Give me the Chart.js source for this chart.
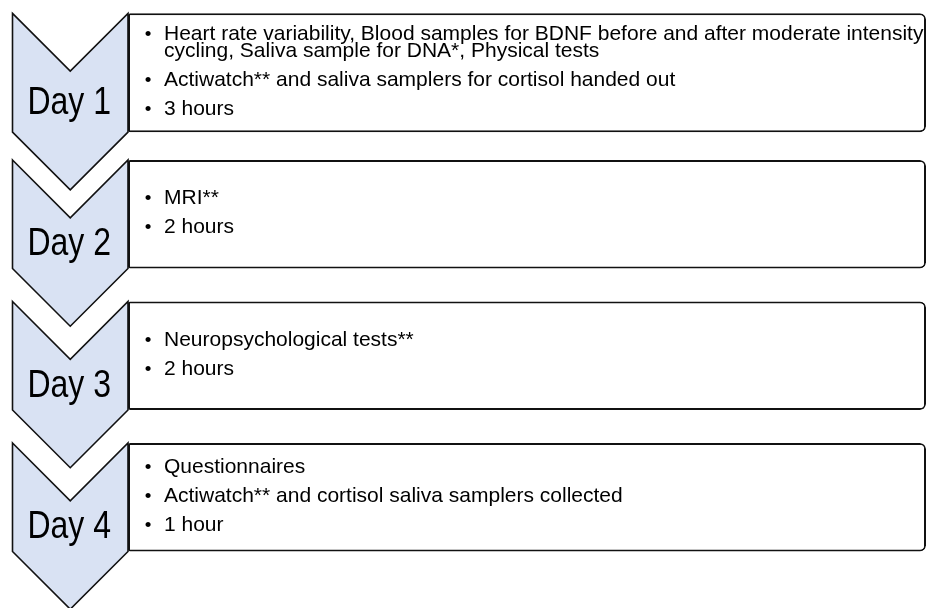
<!DOCTYPE html>
<html>
<head>
<meta charset="utf-8">
<script src="https://cdn.jsdelivr.net/npm/chart.js@4/dist/chart.umd.min.js"></script>
<style>
html,body{margin:0;padding:0;background:#ffffff;}
#wrap{width:928px;height:608px;position:relative;}
</style>
</head>
<body>
<div id="wrap"><canvas id="c" width="928" height="608"></canvas></div>
<script>
// ---- data ----
const days = ['Day 1', 'Day 2', 'Day 3', 'Day 4'];
const activities = [
  ['Heart rate variability, Blood samples for BDNF before and after moderate intensity cycling, Saliva sample for DNA*, Physical tests',
   'Actiwatch** and saliva samplers for cortisol handed out'],
  ['MRI**'],
  ['Neuropsychological tests**'],
  ['Questionnaires',
   'Actiwatch** and cortisol saliva samplers collected']
];
const hours = [3, 2, 2, 1];
const sessionSpan = [1, 1, 1, 1]; // each day's session box spans the full column

// ---- font helpers ----
const probe = document.createElement('canvas').getContext('2d');
probe.font = '40px "Liberation Sans Narrow", monospace';
const wA = probe.measureText('Day 1 abcdefghij').width;
probe.font = '40px monospace';
const wB = probe.measureText('Day 1 abcdefghij').width;
const HAS_NARROW = Math.abs(wA - wB) > 1;
const NARROW = HAS_NARROW ? '"Liberation Sans Narrow", "Liberation Sans", Arial, sans-serif' : '"Liberation Sans", Arial, sans-serif';
const NARROW_SX = HAS_NARROW ? 1 : 0.82;
const REGULAR = '"Liberation Sans", Arial, sans-serif';

function setFont(ctx, size, fam) { ctx.font = size + 'px ' + fam; }
function measure(ctx, text, size) { setFont(ctx, size, REGULAR); return ctx.measureText(text).width; }
function drawText(ctx, text, x, y, size, align, narrow) {
  ctx.save();
  ctx.translate(x, y);
  if (narrow) ctx.scale(NARROW_SX, 1);
  setFont(ctx, size, narrow ? NARROW : REGULAR);
  ctx.textAlign = align || 'left';
  ctx.textBaseline = 'alphabetic';
  ctx.fillStyle = '#000000';
  ctx.fillText(text, 0, 0);
  ctx.restore();
}
function wrap(ctx, text, size, maxW) {
  const words = text.split(' ');
  const lines = [];
  let cur = '';
  for (const w of words) {
    const t = cur ? cur + ' ' + w : w;
    if (cur && measure(ctx, t, size) > maxW) { lines.push(cur); cur = w; }
    else cur = t;
  }
  if (cur) lines.push(cur);
  return lines;
}

const TEXT_SIZE = 21;
const DAY_SIZE = 39;
const CHEVRON_W = 115.5;

function barFor(chart, i) {
  for (let d = 0; d < chart.data.datasets.length; d++) {
    const v = chart.data.datasets[d].data[i];
    if (v !== null && v !== undefined) return chart.getDatasetMeta(d).data[i];
  }
  return null;
}

const diagramPlugin = {
  id: 'diagram',
  beforeDatasetsDraw(chart) {
    const ctx = chart.ctx;
    const area = chart.chartArea;
    const R = area.left, L = area.left - CHEVRON_W;
    const mid = (L + R) / 2, d = (R - L) / 2;
    days.forEach((day, i) => {
      const el = barFor(chart, i);
      if (!el) return;
      const top = el.y - el.height / 2, bottom = el.y + el.height / 2;
      ctx.save();
      ctx.beginPath();
      ctx.moveTo(L, top);
      ctx.lineTo(mid, top + d);
      ctx.lineTo(R, top);
      ctx.lineTo(R, bottom);
      ctx.lineTo(mid, bottom + d);
      ctx.lineTo(L, bottom);
      ctx.closePath();
      ctx.fillStyle = '#D9E2F3';
      ctx.fill();
      ctx.lineWidth = 1.6;
      ctx.strokeStyle = '#111111';
      ctx.lineJoin = 'miter';
      ctx.stroke();
      ctx.restore();
      drawText(ctx, day, mid - 1, el.y + 41, DAY_SIZE, 'center', true);
    });
  },
  afterDatasetsDraw(chart) {
    const ctx = chart.ctx;
    const area = chart.chartArea;
    const bulletX = area.left + 20;
    const textX = area.left + 36;
    const maxW = area.right - textX + 6;
    days.forEach((day, i) => {
      const el = barFor(chart, i);
      if (!el) return;
      const paras = activities[i].concat([hours[i] + (hours[i] === 1 ? ' hour' : ' hours')]);
      const lines = [];
      paras.forEach((p) => {
        wrap(ctx, p, TEXT_SIZE, maxW).forEach((ln, li) => {
          lines.push({ text: ln, bullet: li === 0, gap: lines.length === 0 ? 0 : (li === 0 ? 29 : 17) });
        });
      });
      let span = 0;
      lines.forEach(l => span += l.gap);
      const cap = 14.5;
      let y = el.y - 3 + (cap - span) / 2;
      lines.forEach((l) => {
        y += l.gap;
        if (l.bullet) drawText(ctx, '\u2022', bulletX, y, TEXT_SIZE - 2, 'center', false);
        drawText(ctx, l.text, textX, y, TEXT_SIZE, 'left', false);
      });
    });
  }
};

// boxes for days with long (wrapped) activity text are taller
const isLong = activities.map(a => a.join(' ').length > 100);

const boxStyle = {
  grouped: false,
  categoryPercentage: 1,
  backgroundColor: '#ffffff',
  borderColor: '#111111',
  borderWidth: 2,
  borderSkipped: false,
  borderRadius: { topLeft: 2, bottomLeft: 2, topRight: 6, bottomRight: 6 }
};

new Chart(document.getElementById('c'), {
  type: 'bar',
  data: {
    labels: days,
    datasets: [
      Object.assign({
        label: 'Long sessions',
        data: sessionSpan.map((v, i) => isLong[i] ? v : null),
        barPercentage: 0.84
      }, boxStyle),
      Object.assign({
        label: 'Sessions',
        data: sessionSpan.map((v, i) => isLong[i] ? null : v),
        barPercentage: 0.766
      }, boxStyle)
    ]
  },
  options: {
    indexAxis: 'y',
    responsive: false,
    animation: false,
    devicePixelRatio: 1,
    layout: { padding: { left: 128, right: 2, top: 2, bottom: 40 } },
    scales: {
      x: { type: 'linear', min: 0, max: 1, display: false },
      y: { type: 'category', display: false, offset: true }
    },
    plugins: {
      colors: { enabled: false },
      legend: { display: false },
      tooltip: { enabled: false },
      title: { display: false }
    }
  },
  plugins: [diagramPlugin]
});
</script>
</body>
</html>
